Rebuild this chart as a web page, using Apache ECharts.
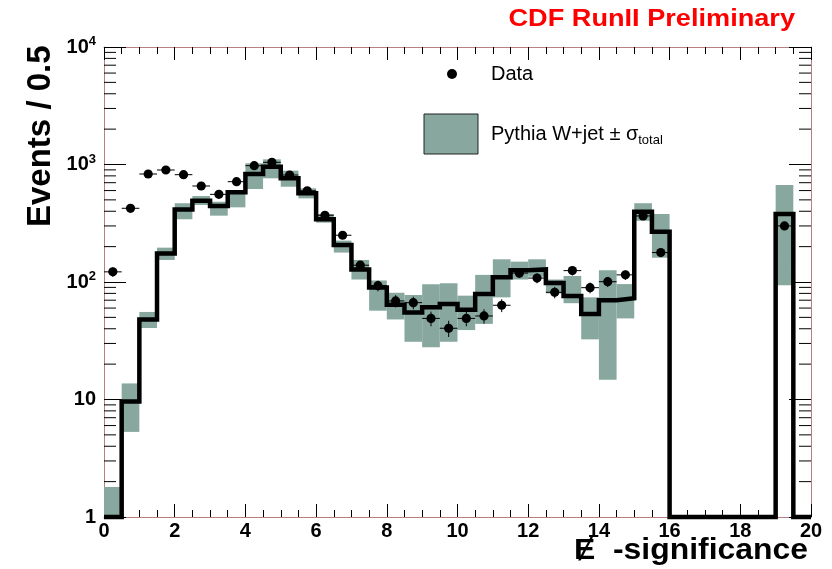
<!DOCTYPE html>
<html>
<head>
<meta charset="utf-8">
<script src="https://cdn.jsdelivr.net/npm/echarts@6/dist/echarts.min.js"></script>
<style>html,body{margin:0;padding:0;background:#fff;}#c{width:832px;height:569px;}</style>
</head>
<body>
<div id="c"></div>
<script>
// Bin lower edges (bin width 0.5)
const binLow = [0,0.5,1,1.5,2,2.5,3,3.5,4,4.5,5,5.5,6,6.5,7,7.5,8,8.5,9,9.5,
                10,10.5,11,11.5,12,12.5,13,13.5,14,14.5,15,15.5,16,16.5,17,17.5,18,18.5,19,19.5];
// Pythia W+jet prediction (1 = empty bin drawn at axis floor)
const mcValues = [1,9.6,48,175,415,492,443,580,830,958,763,569,342,206,128,90,64,55,61,65,
                  58,79,110,126,128,98,76,53.5,70,72.6,397,268,1,1,1,1,1,1,379,1];
// Band: prediction +/- sigma_total
const bandLow  = [1,5.3,40.6,154,342,452,367,432,619,763,647,515,320,178,105,57,48,31,27.8,31,
                  39,44,74,105,111,80,66,32.5,14.7,49,332,161,null,null,null,null,null,null,94,null];
const bandHigh = [1.8,13.7,55.6,196,468,539,482,561,1024,1107,886,627,379,225,154,103,81,77.5,95.6,97.5,
                  76.5,115,156,149,156,105,112.5,74,126,96,468,379,null,null,null,null,null,null,670,null];
// Data counts
const dataValues = [122,424,830,898,819,656,557,714,977,1044,814,598,370,250,139,93,69,66.7,49,40.4,
                    49,51.4,63.4,119,108,81.7,125,89.5,100.6,115,365,178,null,null,null,null,null,null,300,null];
const xTicks = [0,2,4,6,8,10,12,14,16,18,20];
const yMinorTicks = [];
[1,10,100,1000].forEach(d => { for (let k = 2; k <= 9; k++) yMinorTicks.push(k * d); });

const binW = 0.5;
const bandColor = '#87a79f';
const frameColor = '#b88080';
const FONT = "'Liberation Sans', Arial, Helvetica, sans-serif";

const bandData = binLow.map((x, i) => bandLow[i] == null ? null : [x, bandLow[i], bandHigh[i]]).filter(d => d);
const lineData = binLow.map((x, i) => [x, mcValues[i]]);
lineData.push([20, mcValues[mcValues.length - 1]]);
const pointData = binLow.map((x, i) => dataValues[i] == null ? null : [x + binW / 2, dataValues[i]]).filter(d => d);

const chart = echarts.init(document.getElementById('c'), null, {renderer: 'canvas'});

const yLabel = v => {
  if (v === 1) return '{n|1}';
  if (v === 10) return '{n|10}';
  return '{n|10}{s|' + Math.round(Math.log10(v)) + '}';
};

const option = {
  animation: false,
  backgroundColor: '#fff',
  grid: {left: 104, right: 21, top: 47, bottom: 52},
  xAxis: [{
    type: 'value', min: 0, max: 20, interval: 2,
    axisLine: {show: true, onZero: false, lineStyle: {color: frameColor, width: 1}},
    axisTick: {show: true, inside: true, length: 13, lineStyle: {color: '#000', width: 1}},
    minorTick: {show: true, splitNumber: 4, length: 7, lineStyle: {color: '#000', width: 1}},
    splitLine: {show: false},
    axisLabel: {margin: 4, fontSize: 20, fontWeight: 'bold', color: '#000', fontFamily: FONT,
      formatter: v => xTicks.indexOf(v) >= 0 ? String(v) : ''}
  }, {
    type: 'value', min: 0, max: 20, interval: 2, position: 'top',
    axisLine: {show: true, onZero: false, lineStyle: {color: frameColor, width: 1}},
    axisTick: {show: true, inside: true, length: 13, lineStyle: {color: '#000', width: 1}},
    minorTick: {show: true, splitNumber: 4, length: 7, lineStyle: {color: '#000', width: 1}},
    splitLine: {show: false}, axisLabel: {show: false}
  }],
  yAxis: [{
    type: 'log', logBase: 10, min: 1, max: 10000,
    axisLine: {show: true, onZero: false, lineStyle: {color: frameColor, width: 1}},
    axisTick: {show: true, inside: true, length: 22, lineStyle: {color: '#000', width: 1}},
    splitLine: {show: false},
    axisLabel: {margin: 8, color: '#000', formatter: yLabel,
      rich: {
        n: {fontSize: 20, fontWeight: 'bold', fontFamily: FONT, color: '#000', lineHeight: 24},
        s: {fontSize: 13, fontWeight: 'bold', fontFamily: FONT, color: '#000', lineHeight: 12, verticalAlign: 'top'}
      }}
  }, {
    type: 'log', logBase: 10, min: 1, max: 10000, position: 'right',
    axisLine: {show: true, onZero: false, lineStyle: {color: frameColor, width: 1}},
    axisTick: {show: true, inside: true, length: 22, lineStyle: {color: '#000', width: 1}},
    splitLine: {show: false}, axisLabel: {show: false}
  }],
  series: [
    {
      name: 'band', type: 'custom', xAxisIndex: 0, yAxisIndex: 0, silent: true,
      data: bandData, encode: {x: 0, y: [1, 2]},
      renderItem: (params, api) => {
        const x0 = api.value(0);
        const p1 = api.coord([x0, api.value(2)]);
        const p2 = api.coord([x0 + binW, api.value(1)]);
        return {type: 'rect', shape: {x: p1[0], y: p1[1], width: p2[0] - p1[0], height: p2[1] - p1[1]},
          style: {fill: bandColor}};
      },
      z: 2
    },
    {
      name: 'yminor', type: 'custom', xAxisIndex: 0, yAxisIndex: 0, silent: true, clip: false,
      data: yMinorTicks.map(v => [0, v]), encode: {x: 0, y: 1},
      renderItem: (params, api) => {
        const v = api.value(1);
        const a = api.coord([0, v]);
        const b = api.coord([20, v]);
        return {type: 'group', children: [
          {type: 'line', shape: {x1: a[0], y1: a[1], x2: a[0] + 12, y2: a[1]}, style: {stroke: '#000', lineWidth: 1}},
          {type: 'line', shape: {x1: b[0] - 12, y1: b[1], x2: b[0], y2: b[1]}, style: {stroke: '#000', lineWidth: 1}}
        ]};
      },
      z: 3
    },
    {
      name: 'Pythia', type: 'line', xAxisIndex: 0, yAxisIndex: 0, step: 'end',
      data: lineData, symbol: 'none', silent: true, clip: false,
      lineStyle: {color: '#000', width: 4.5, join: 'miter'},
      z: 4
    },
    {
      name: 'Data', type: 'custom', xAxisIndex: 0, yAxisIndex: 0, silent: true, clip: false,
      data: pointData, encode: {x: 0, y: 1},
      renderItem: (params, api) => {
        const x = api.value(0), v = api.value(1);
        const e = Math.sqrt(v);
        const c = api.coord([x, v]);
        const l = api.coord([x - binW / 2, v]);
        const r = api.coord([x + binW / 2, v]);
        const up = api.coord([x, v + e]);
        const dn = api.coord([x, v - e]);
        return {type: 'group', children: [
          {type: 'line', shape: {x1: l[0], y1: l[1], x2: r[0], y2: r[1]}, style: {stroke: '#000', lineWidth: 1}},
          {type: 'line', shape: {x1: c[0], y1: up[1], x2: c[0], y2: dn[1]}, style: {stroke: '#000', lineWidth: 1}},
          {type: 'circle', shape: {cx: c[0], cy: c[1], r: 4.6}, style: {fill: '#000'}}
        ]};
      },
      z: 5
    }
  ],
  graphic: [
    {type: 'text', x: 795, y: 20, scaleX: 1.18, style: {text: 'CDF RunII Preliminary', fill: '#ff0000',
      font: "bold 23px " + FONT, textAlign: 'right', textVerticalAlign: 'middle'}, z: 10},
    {type: 'text', x: 24, y: 227, rotation: Math.PI / 2, style: {text: 'Events / 0.5', fill: '#000',
      font: "bold 33px " + FONT, textAlign: 'left', textVerticalAlign: 'top'}, z: 10},
    {type: 'text', x: 808, y: 551, scaleX: 1.1, style: {text: 'Ɇ  -significance', fill: '#000',
      font: "bold 29px " + FONT, textAlign: 'right', textVerticalAlign: 'middle'}, z: 10},
    {type: 'circle', shape: {cx: 452, cy: 74, r: 5}, style: {fill: '#000'}, z: 10},
    {type: 'text', x: 491, y: 74, style: {text: 'Data', fill: '#000', font: "20px " + FONT,
      textVerticalAlign: 'middle'}, z: 10},
    {type: 'rect', shape: {x: 424, y: 114, width: 54, height: 40}, style: {fill: bandColor, stroke: '#222', lineWidth: 1}, z: 10},
    {type: 'text', x: 491, y: 134, style: {
      text: '{m|Pythia W+jet ± σ}{b|total}', textVerticalAlign: 'middle',
      rich: {
        m: {fontSize: 20, fontFamily: FONT, fill: '#000', lineHeight: 26},
        b: {fontSize: 13, fontFamily: FONT, fill: '#000', lineHeight: 12, verticalAlign: 'bottom'}
      }}, z: 10}
  ]
};
chart.setOption(option);
</script>
</body>
</html>
